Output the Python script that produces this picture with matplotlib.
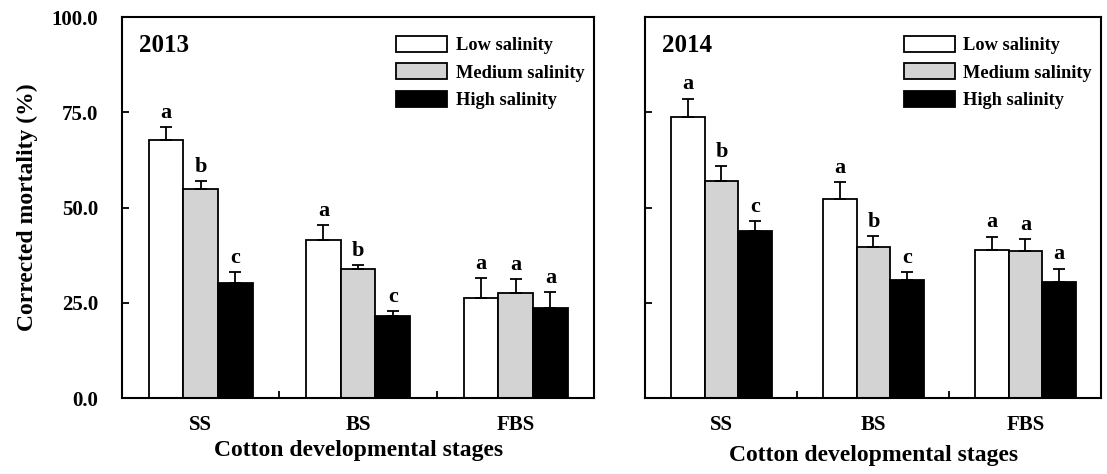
import matplotlib
matplotlib.use("Agg")
import matplotlib.pyplot as plt
import numpy as np

stages = ["SS", "BS", "FBS"]
series = ["Low salinity", "Medium salinity", "High salinity"]
colors = ["white", "#d3d3d3", "black"]

# 2013
low_2013 = [67.8, 41.4, 26.2]
med_2013 = [54.8, 33.9, 27.7]
high_2013 = [30.2, 21.6, 23.7]
low_2013_err = [3.3, 4.0, 5.2]
med_2013_err = [2.1, 1.0, 3.5]
high_2013_err = [2.9, 1.3, 4.2]
letters_2013 = [["a", "a", "a"], ["b", "b", "a"], ["c", "c", "a"]]

# 2014
low_2014 = [73.9, 52.2, 39.0]
med_2014 = [57.0, 39.6, 38.6]
high_2014 = [43.9, 31.0, 30.4]
low_2014_err = [4.7, 4.4, 3.4]
med_2014_err = [3.8, 2.9, 3.2]
high_2014_err = [2.6, 2.0, 3.6]
letters_2014 = [["a", "a", "a"], ["b", "b", "a"], ["c", "c", "a"]]

yticks = [0, 25, 50, 75, 100]
ytick_labels = ["0.0", "25.0", "50.0", "75.0", "100.0"]

plt.rcParams['font.family'] = ['Liberation Serif', 'DejaVu Serif']
plt.rcParams['font.weight'] = 'bold'

fig = plt.figure(figsize=(11.07, 4.74), dpi=100)
ax1 = fig.add_axes([0.110, 0.160, 0.427, 0.804])
ax2 = fig.add_axes([0.583, 0.160, 0.412, 0.804])

def draw(ax, vals, errs, letters, year, show_labels, leg_x, xlabelpad):
    x = np.arange(len(stages)) + 0.5
    w = 0.22
    offs = [-w, 0, w]
    for i, (v, e, c, name) in enumerate(zip(vals, errs, colors, series)):
        ax.bar(x + offs[i], v, width=w, color=c, edgecolor="black",
               linewidth=1.3, label=name, zorder=2)
        ax.errorbar(x + offs[i], v, yerr=[np.zeros(len(e)), e], fmt="none",
                    ecolor="black", elinewidth=1.3, capsize=4.5, capthick=1.3, zorder=3)
        for j in range(len(stages)):
            ax.annotate(letters[i][j], (x[j] + offs[i], v[j] + e[j]),
                        xytext=(0, 3), textcoords="offset points",
                        ha="center", va="bottom", fontsize=16, fontweight="bold")
    ax.set_xlim(0, 3)
    ax.set_ylim(0, 100)
    ax.set_xticks([1, 2])
    ax.set_xticklabels([])
    ax.tick_params(axis="x", direction="in", length=5, width=1.3)
    ax.set_xticks(x, minor=True)
    ax.set_xticklabels(stages, minor=True, fontsize=15, fontweight="bold")
    ax.tick_params(axis="x", which="minor", length=0, pad=12)
    ax.set_yticks(yticks)
    if show_labels:
        ax.set_yticklabels(ytick_labels, fontsize=15, fontweight="bold")
        ax.set_ylabel("Corrected mortality (%)", fontsize=17, fontweight="bold", labelpad=10)
    else:
        ax.set_yticklabels([])
    ax.tick_params(axis="y", direction="in", length=5, width=1.3, pad=17)
    ax.set_xlabel("Cotton developmental stages", fontsize=17, fontweight="bold",
                  labelpad=xlabelpad)
    for s in ax.spines.values():
        s.set_linewidth(1.5)
    ax.text(0.036, 0.908, year, transform=ax.transAxes, fontsize=18,
            fontweight="bold", va="baseline", ha="left")
    ax.legend(loc="upper left", bbox_to_anchor=(leg_x, 0.95), frameon=False,
              prop={"size": 13.2, "weight": "bold"}, handlelength=2.8,
              handleheight=0.95, labelspacing=0.5, handletextpad=0.45,
              borderpad=0, borderaxespad=0)

draw(ax1, [low_2013, med_2013, high_2013], [low_2013_err, med_2013_err, high_2013_err],
     letters_2013, "2013", True, 0.58, 4)
draw(ax2, [low_2014, med_2014, high_2014], [low_2014_err, med_2014_err, high_2014_err],
     letters_2014, "2014", False, 0.566, 7)

fig.savefig("out.png", dpi=100)
